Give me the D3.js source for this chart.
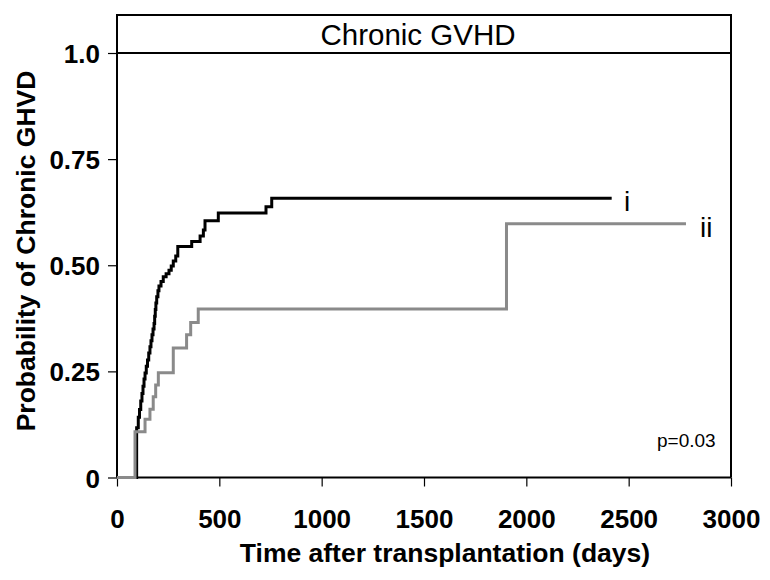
<!DOCTYPE html>
<html><head><meta charset="utf-8">
<script src="https://cdn.jsdelivr.net/npm/d3@7"></script>
<style>
body{margin:0;background:#fff}
svg{display:block}
text{font-family:"Liberation Sans",Arial,Helvetica,sans-serif;fill:#000}
</style>
</head><body>
<svg id="chart" width="770" height="580"></svg>
<script>
// ---- data ----
const title = "Chronic GVHD";
const xLabel = "Time after transplantation (days)";
const yLabel = "Probability of Chronic GHVD";
const xTicks = [0, 500, 1000, 1500, 2000, 2500, 3000];
const yTicks = [0, 0.25, 0.5, 0.75, 1.0];
const yTickLabels = ["0", "0.25", "0.50", "0.75", "1.0"];
const seriesNames = ["i", "ii"];
const pValueText = "p=0.03";

// group i (black): step times (days) and cumulative incidence after each step
const iTimes  = [0, 96, 104, 110, 116, 122, 127, 132, 137, 143, 149, 155, 161, 166, 171, 176, 181, 184, 187, 190, 194, 200, 205, 215, 226, 240, 254, 265, 275, 287, 297, 365, 406, 422, 430, 495, 728, 756, 2417];
const iValues = [0, 0.117, 0.142, 0.16, 0.18, 0.198, 0.215, 0.232, 0.246, 0.262, 0.277, 0.293, 0.308, 0.322, 0.336, 0.35, 0.363, 0.38, 0.396, 0.411, 0.426, 0.44, 0.451, 0.462, 0.473, 0.48, 0.488, 0.498, 0.51, 0.522, 0.544, 0.556, 0.569, 0.583, 0.605, 0.623, 0.638, 0.658, 0.658];

// group ii (grey)
const iiTimes  = [0, 88, 137, 161, 177, 189, 202, 275, 340, 360, 397, 1903, 2780];
const iiValues = [0, 0.108, 0.137, 0.161, 0.19, 0.218, 0.247, 0.305, 0.336, 0.365, 0.397, 0.598, 0.598];

// ---- layout ----
const svg = d3.select("#chart");
const L = 117, R = 731, T = 53, B = 477.5, titleTop = 15;
const x = d3.scaleLinear().domain([0, 3000]).range([L, R]);
const y = d3.scaleLinear().domain([0, 1]).range([B, T]);

// title box
svg.append("rect").attr("x", L).attr("y", titleTop).attr("width", R - L).attr("height", T - titleTop)
  .attr("fill", "none").attr("stroke", "#000").attr("stroke-width", 2);
svg.append("text").attr("x", 418).attr("y", 45).attr("text-anchor", "middle")
  .attr("font-size", 29.5).text(title);

// right border
svg.append("line").attr("x1", R).attr("x2", R).attr("y1", T).attr("y2", B)
  .attr("stroke", "#000").attr("stroke-width", 2);

// axes
const xAxis = svg.append("g").attr("transform", `translate(0,${B})`)
  .call(d3.axisBottom(x).tickValues(xTicks).tickSize(9).tickPadding(0).tickFormat(d3.format("d")));
xAxis.select(".domain").attr("stroke-width", 2).attr("d", `M${L},0H${R}`);
xAxis.selectAll(".tick line").attr("stroke-width", 1.2);
xAxis.selectAll(".tick text").attr("font-size", 26).attr("font-weight", "bold")
  .attr("font-family", '"Liberation Sans",Arial,sans-serif').attr("dy", null).attr("y", 50.5);

const yAxis = svg.append("g").attr("transform", `translate(${L},0)`)
  .call(d3.axisLeft(y).tickValues(yTicks).tickSize(9).tickPadding(0).tickFormat((d, i) => yTickLabels[i]));
yAxis.select(".domain").attr("stroke-width", 2).attr("d", `M0,${B}V${T}`);
yAxis.selectAll(".tick line").attr("stroke-width", 1.2);
yAxis.selectAll(".tick text").attr("font-size", 26).attr("font-weight", "bold")
  .attr("font-family", '"Liberation Sans",Arial,sans-serif').attr("dy", null).attr("x", -17).attr("y", 9.5);

// axis titles
svg.append("text").attr("x", 445).attr("y", 562).attr("text-anchor", "middle")
  .attr("font-size", 26.5).attr("font-weight", "bold").text(xLabel);
svg.append("text").attr("transform", "translate(35,251) rotate(-90)").attr("text-anchor", "middle")
  .attr("font-size", 26.5).attr("font-weight", "bold").text(yLabel);

// curves
const line = d3.line().x(d => x(d[0])).y(d => y(d[1])).curve(d3.curveStepAfter);
const iData = iTimes.map((t, k) => [t, iValues[k]]);
const iiData = iiTimes.map((t, k) => [t, iiValues[k]]);
svg.append("path").datum(iData).attr("d", line).attr("fill", "none")
  .attr("stroke", "#000").attr("stroke-width", 3).attr("stroke-linejoin", "miter").attr("stroke-linecap", "butt");
svg.append("path").datum(iiData).attr("d", line).attr("fill", "none")
  .attr("stroke", "#8a8a8a").attr("stroke-width", 3).attr("stroke-linejoin", "miter").attr("stroke-linecap", "butt");

// series labels
svg.append("text").attr("x", 624).attr("y", 211).attr("font-size", 28).text(seriesNames[0]);
svg.append("text").attr("x", 700).attr("y", 237).attr("font-size", 28).text(seriesNames[1]);

// p-value
svg.append("text").attr("x", 657).attr("y", 447).attr("font-size", 19).text(pValueText);
</script>
</body></html>
